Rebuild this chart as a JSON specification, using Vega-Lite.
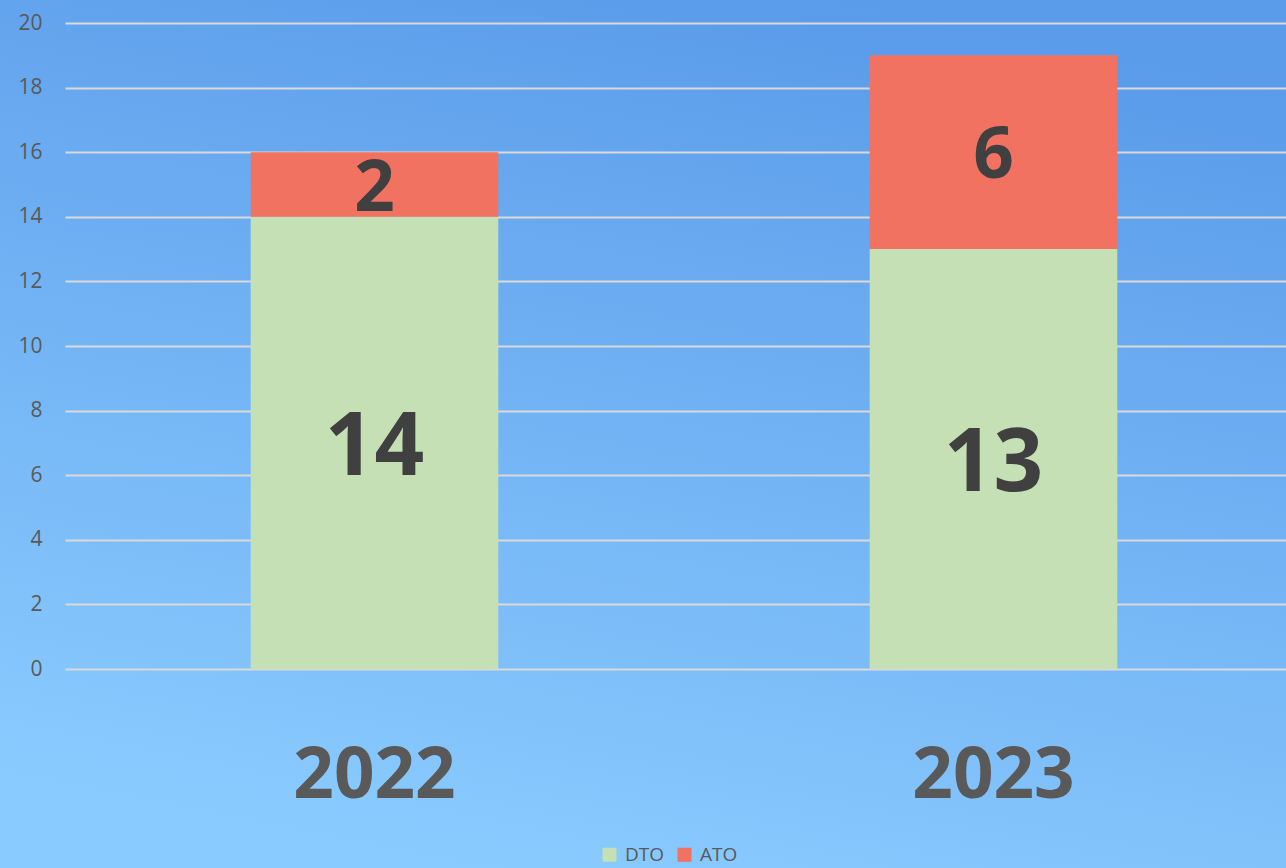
{
  "$schema": "https://vega.github.io/schema/vega-lite/v6.json",
  "width": 1286,
  "height": 868,
  "autosize": {"type": "none"},
  "padding": 0,
  "background": "#72b2f6",
  "config": {
    "font": "Open Sans",
    "view": {
      "stroke": null,
      "fill": {
        "gradient": "linear",
        "x1": 0.65, "y1": 0, "x2": 0.35, "y2": 1,
        "stops": [
          {"offset": 0, "color": "#5a9bea"},
          {"offset": 1, "color": "#8acbff"}
        ]
      }
    }
  },
  "data": {
    "values": [
      {"year": "2022", "series": "DTO", "value": 14},
      {"year": "2022", "series": "ATO", "value": 2},
      {"year": "2023", "series": "DTO", "value": 13},
      {"year": "2023", "series": "ATO", "value": 6}
    ]
  },
  "transform": [
    {"stack": "value", "groupby": ["year"], "sort": [{"field": "series", "order": "descending"}], "as": ["v0", "v1"]},
    {"calculate": "(datum.v0 + datum.v1) / 2", "as": "mid"}
  ],
  "encoding": {
    "x": {
      "field": "year",
      "type": "nominal",
      "scale": {"range": [65, 1303], "paddingInner": 0.6, "paddingOuter": 0.3},
      "axis": {
        "title": null,
        "domain": false,
        "ticks": false,
        "tickSize": 0,
        "labelPadding": 0,
        "offset": -92,
        "labelFont": "Open Sans",
        "labelFontSize": 71,
        "labelFontWeight": "bold",
        "labelColor": "#595959",
        "labelBaseline": "middle",
        "labelAngle": 0
      }
    }
  },
  "layer": [
    {
      "mark": {"type": "bar"},
      "encoding": {
        "y": {
          "field": "v0",
          "type": "quantitative",
          "scale": {"domain": [0, 20], "range": [669, 23], "nice": false, "zero": true},
          "axis": {
            "title": null,
            "values": [0, 2, 4, 6, 8, 10, 12, 14, 16, 18, 20],
            "domain": false,
            "ticks": false,
            "tickSize": 0,
            "labelPadding": 23,
            "offset": -65,
            "labelFont": "Open Sans",
            "labelFontSize": 21,
            "labelColor": "#595959",
            "grid": true,
            "gridColor": "#d9d9d9",
            "gridWidth": 2
          }
        },
        "y2": {"field": "v1"},
        "color": {
          "field": "series",
          "type": "nominal",
          "scale": {"domain": ["DTO", "ATO"], "range": ["#c5e0b4", "#f27262"]},
          "legend": {
            "title": null,
            "orient": "none",
            "legendX": 600,
            "legendY": 845,
            "direction": "horizontal",
            "padding": 0,
            "symbolType": "square",
            "symbolSize": 196,
            "symbolStrokeWidth": 0,
            "symbolOpacity": 1,
            "labelFont": "Open Sans",
            "labelFontSize": 19,
            "labelColor": "#595959",
            "labelOffset": 6,
            "columnPadding": 10
          }
        }
      }
    },
    {
      "transform": [{"filter": "datum.series === 'DTO'"}],
      "mark": {"type": "text", "font": "Open Sans", "fontSize": 87, "fontWeight": "bold", "color": "#404040", "baseline": "middle", "dy": 6},
      "encoding": {
        "y": {"field": "mid", "type": "quantitative"},
        "text": {"field": "value", "type": "quantitative"}
      }
    },
    {
      "transform": [{"filter": "datum.series === 'ATO'"}],
      "mark": {"type": "text", "font": "Open Sans", "fontSize": 71, "fontWeight": "bold", "color": "#404040", "baseline": "middle", "dy": 5},
      "encoding": {
        "y": {"field": "mid", "type": "quantitative"},
        "text": {"field": "value", "type": "quantitative"}
      }
    }
  ]
}
